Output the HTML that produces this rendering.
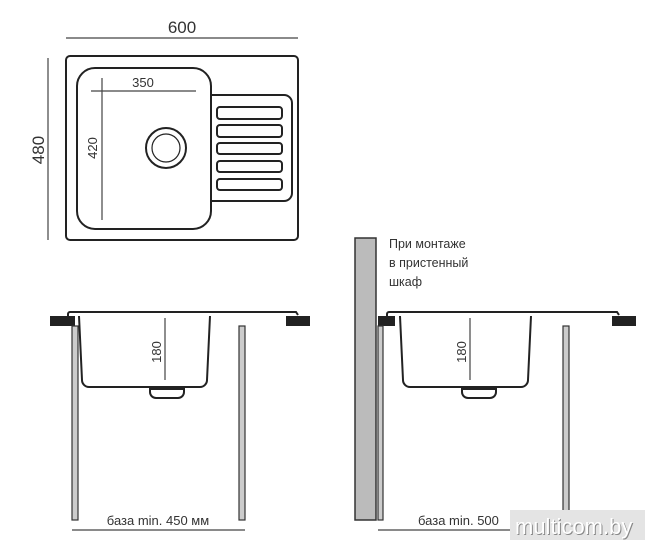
<!DOCTYPE html>
<html><head><meta charset="utf-8"><style>
html,body{margin:0;padding:0;background:#fff;}
svg{display:block;}
text{font-family:"Liberation Sans","DejaVu Sans",sans-serif;fill:#333;}
</style></head><body>
<svg width="659" height="550" viewBox="0 0 659 550" xmlns="http://www.w3.org/2000/svg">
<g fill="none" stroke="#222" stroke-width="2">
<rect x="66" y="56" width="232" height="184" rx="4"/>
<path d="M77,86 a18,18 0 0 1 18,-18 h98 a18,18 0 0 1 18,18 v125 a18,18 0 0 1 -18,18 h-98 a18,18 0 0 1 -18,-18 z"/>
<path d="M211,95 h73 a8,8 0 0 1 8,8 v90 a8,8 0 0 1 -8,8 h-73"/>
<rect x="217" y="107" width="65" height="12" rx="3"/>
<rect x="217" y="125" width="65" height="12" rx="3"/>
<rect x="217" y="143" width="65" height="11" rx="3"/>
<rect x="217" y="161" width="65" height="11" rx="3"/>
<rect x="217" y="179" width="65" height="11" rx="3"/>
<circle cx="166" cy="148" r="20"/>
<circle cx="166" cy="148" r="14" stroke-width="1.2"/>
</g>
<g stroke="#444" stroke-width="1.2">
<line x1="66" y1="38" x2="298" y2="38"/>
<line x1="48" y1="58" x2="48" y2="240"/>
<line x1="91" y1="91" x2="196" y2="91"/>
<line x1="102" y1="78" x2="102" y2="220"/>
<line x1="165" y1="318" x2="165" y2="380"/>
<line x1="470" y1="318" x2="470" y2="380"/>
<line x1="72" y1="530" x2="245" y2="530"/>
<line x1="378" y1="530" x2="510" y2="530"/>
</g>
<text x="182" y="33" font-size="17" text-anchor="middle">600</text>
<text x="143" y="87" font-size="13" text-anchor="middle">350</text>
<text transform="translate(44,150) rotate(-90)" font-size="17" text-anchor="middle">480</text>
<text transform="translate(97,148) rotate(-90)" font-size="13" text-anchor="middle">420</text>
<text transform="translate(161,352) rotate(-90)" font-size="13" text-anchor="middle">180</text>
<text transform="translate(466,352) rotate(-90)" font-size="13" text-anchor="middle">180</text>
<text x="158" y="525" font-size="13" text-anchor="middle">база min. 450 мм</text>
<text x="418" y="525" font-size="13">база min. 500</text>
<text x="389" y="248" font-size="12.5">При монтаже</text>
<text x="389" y="267" font-size="12.5">в пристенный</text>
<text x="389" y="286" font-size="12.5">шкаф</text>
<rect x="50" y="316" width="25" height="10" fill="#222"/>
<rect x="286" y="316" width="24" height="10" fill="#222"/>
<rect x="72" y="326" width="6" height="194" fill="#ccc" stroke="#333" stroke-width="1.2"/>
<rect x="239" y="326" width="6" height="194" fill="#ccc" stroke="#333" stroke-width="1.2"/>
<g fill="none" stroke="#222" stroke-width="2">
<path d="M68,316 v-2 a2,2 0 0 1 2,-2 h226 l2,3"/>
<path d="M79,316 l3,64 a7,7 0 0 0 7,7 h111 a7,7 0 0 0 7,-7 l3,-64"/>
<path d="M150,388 v4 a6,6 0 0 0 6,6 h22 a6,6 0 0 0 6,-6 v-4"/>
<path d="M387,316 v-2 a2,2 0 0 1 2,-2 h228 l2,3"/>
<path d="M400,316 l3,64 a7,7 0 0 0 7,7 h111 a7,7 0 0 0 7,-7 l3,-64"/>
<path d="M462,388 v4 a6,6 0 0 0 6,6 h22 a6,6 0 0 0 6,-6 v-4"/>
</g>
<rect x="150" y="387" width="34" height="3" fill="#222"/>
<rect x="462" y="387" width="34" height="3" fill="#222"/>
<rect x="355" y="238" width="21" height="282" fill="#bbb" stroke="#333" stroke-width="1.5"/>
<rect x="378" y="316" width="17" height="10" fill="#222"/>
<rect x="612" y="316" width="24" height="10" fill="#222"/>
<rect x="378" y="326" width="5" height="194" fill="#ccc" stroke="#333" stroke-width="1.2"/>
<rect x="563" y="326" width="6" height="194" fill="#ccc" stroke="#333" stroke-width="1.2"/>
<rect x="510" y="510" width="135" height="30" fill="#e4e4e4"/>
<text x="516" y="535" font-size="22" style="fill:#888">multicom.by</text>
<text x="515" y="534" font-size="22" style="fill:#fff">multicom.by</text>
</svg>
</body></html>
